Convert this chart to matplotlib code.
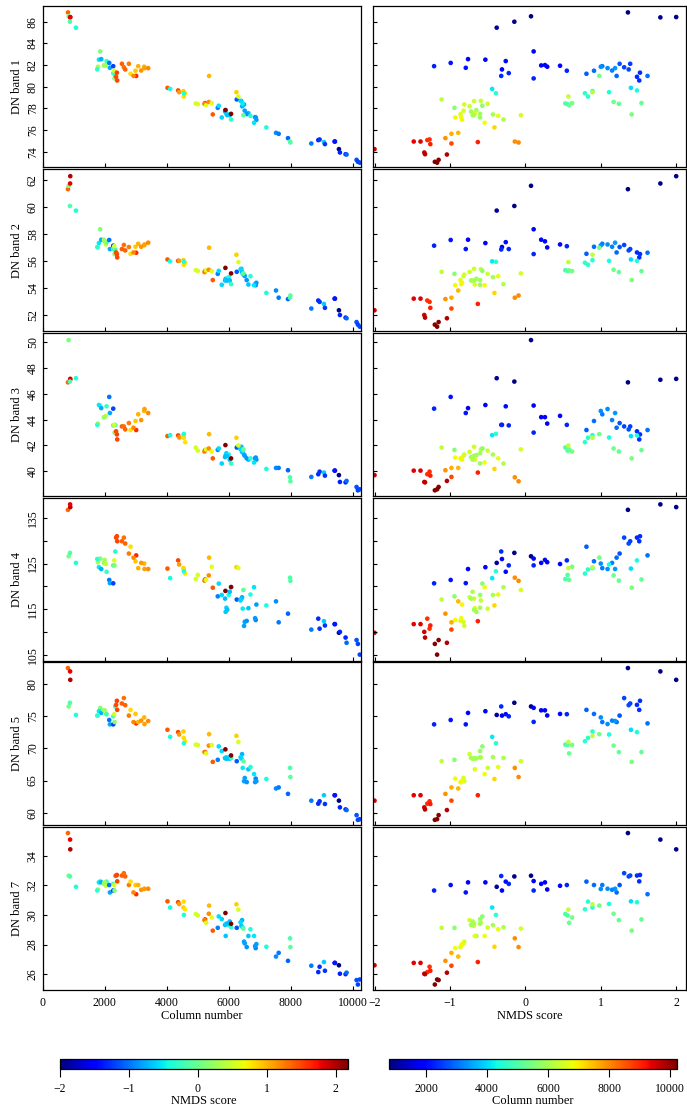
import matplotlib
matplotlib.use("Agg")
import matplotlib.pyplot as plt
from matplotlib.colors import Normalize
from matplotlib.cm import ScalarMappable

plt.rcParams['font.family'] = ['Liberation Serif', 'DejaVu Serif']
plt.rcParams['axes.unicode_minus'] = True

# ---------------- data (one entry per sampled column) ----------------
column_number = [
    806, 828, 881, 875, 870, 1064,
    1849, 1806, 1881, 1774, 1752, 1967, 2032, 2053, 2139, 2161, 2268, 2268, 2333, 2311, 1990, 2300,
    2386, 2397, 2548, 2612, 2655, 2773, 2827, 2360, 3010, 2988, 3075, 2924, 3268, 3279, 3397, 3171,
    4020, 4106, 4364, 4397, 4536, 4590, 4547, 4550,
    4934, 4999, 5235, 5214, 5268, 5354, 5364, 5450, 5483,
    6257, 5644, 6493, 6429, 6407, 6380, 5676, 6450, 6515, 5900, 5880, 6633, 5923, 6579, 5999, 6031,
    5950, 6700, 6472, 6869, 6850, 5773, 6891, 6074, 6816, 5891, 6074, 6246, 6310,
    7213, 7525, 7611, 7912, 7977, 7990,
    8665, 8890, 8933, 9073, 9105, 9417, 9430, 9557, 9589, 9772, 9804, 10127, 10170, 10230,
]
nmds_score = [
    1.36, 0.075, 2.0, 1.79, -0.146, -0.38,
    0.11, -0.53, -0.76, 0.29, -0.31, 0.21, 0.46, -0.26, -0.99, -0.79, -1.21, -0.22, -0.32, 0.11, 0.26, 0.55,
    1.52, 1.51, 1.39, 1.31, 1.37, 1.25, 0.81, 1.48, 1.62, 0.91, 1.02, 1.21, 1.0, 1.09, 1.19, 1.15,
    1.40, -0.44, 1.48, 1.11, 0.89, 0.79, 0.83, -0.39,
    0.53, 0.56, 1.54, 1.24, 0.58, 1.17, 0.98, 0.62, 1.41,
    -1.11, -0.94, -0.81, -0.74, -0.68, -0.59, -0.57, -0.5, -0.82, -0.65, -0.72, -0.67, -0.6, -0.86, -0.43, -0.70,
    -0.68, -0.36, -0.06, -0.93, -0.85, -0.6, -0.84, -0.29, -0.54, 2.18, 2.16, 0.89, 0.57,
    -0.41, -0.89, -0.98, -1.06, -0.14, -0.09,
    -0.98, -1.30, -1.27, -0.63, -1.26, -1.48, -1.39, -2.0, -1.34, -1.33, -1.04, -1.15, -1.2, -1.17,
]
dn_band1 = [
    86.86, 86.5, 86.43, 86.4, 86.0, 85.45,
    83.26, 82.5, 82.55, 81.85, 81.6, 81.97, 81.94, 82.37, 82.2, 81.75, 81.9, 81.26, 81.0, 80.77, 82.0, 81.48,
    81.3, 80.58, 82.12, 81.8, 81.6, 82.12, 81.2, 80.92, 81.0, 81.48, 81.9, 81.0, 81.85, 81.72, 81.72, 81.5,
    79.9, 79.8, 79.66, 79.5, 79.6, 79.4, 79.1, 79.4,
    78.46, 78.4, 78.5, 78.43, 78.3, 78.6, 81.0, 78.5, 77.45,
    78.83, 78.06, 78.37, 78.2, 78.68, 78.7, 78.25, 78.43, 77.8, 77.85, 77.72, 77.57, 77.5, 77.48, 77.45, 77.38,
    77.38, 77.32, 77.38, 77.17, 77.2, 77.17, 76.95, 76.98, 76.68, 77.85, 77.5, 79.5, 79.1,
    76.25, 75.75, 75.66, 75.26, 74.95, 74.86,
    74.77, 75.08, 75.14, 74.9, 74.71, 74.95, 74.95, 74.25, 73.94, 73.78, 73.75, 73.26, 73.08, 73.0,
]
dn_band2 = [
    61.31, 61.56, 62.27, 61.73, 60.07, 59.73,
    58.35, 57.33, 57.58, 57.01, 57.04, 57.58, 57.23, 57.4, 57.56, 56.89, 57.14, 56.89, 56.86, 56.52, 57.46, 57.1,
    56.52, 56.27, 56.89, 57.19, 56.79, 57.04, 56.54, 56.64, 56.62, 57.06, 57.28, 56.64, 57.16, 57.23, 57.36, 57.06,
    56.12, 55.98, 56.02, 56.02, 56.07, 55.88, 55.73, 55.95,
    55.33, 55.28, 55.26, 55.19, 55.31, 55.36, 56.99, 55.26, 54.6,
    55.21, 55.06, 55.0, 55.2, 55.43, 55.4, 55.28, 55.06, 54.9, 54.7, 54.57, 54.27, 54.6, 54.6, 54.81, 54.57,
    54.57, 54.89, 55.09, 54.22, 54.3, 54.25, 54.4, 54.3, 54.22, 55.5, 55.09, 56.47, 55.93,
    53.65, 53.83, 53.3, 53.2, 53.3, 53.46,
    52.5, 53.09, 52.99, 52.84, 52.55, 53.23, 53.23, 52.37, 52.02, 51.83, 51.78, 51.5, 51.31, 51.16,
]
dn_band3 = [
    46.9, 50.18, 47.17, 47.1, 46.96, 47.22,
    45.1, 45.14, 44.9, 43.7, 43.6, 44.2, 44.3, 45.04, 45.77, 44.52, 44.86, 43.56, 43.6, 43.0, 44.2, 43.6,
    42.86, 42.47, 43.48, 43.48, 43.25, 43.74, 43.2, 43.1, 43.2, 43.9, 44.42, 43.38, 44.68, 44.83, 44.52, 43.97,
    42.73, 42.8, 42.78, 42.62, 42.8, 42.26, 42.6, 42.9,
    41.84, 41.6, 41.64, 41.53, 41.7, 41.77, 42.88, 41.53, 41.0,
    41.84, 41.66, 41.3, 41.5, 41.9, 41.7, 41.77, 41.6, 41.2, 41.25, 41.1, 40.9, 41.4, 41.0, 41.3, 40.9,
    41.2, 41.0, 41.7, 41.06, 41.0, 40.6, 40.9, 40.6, 40.68, 42.03, 41.0, 42.6, 42.0,
    40.18, 40.26, 40.26, 40.08, 39.53, 39.22,
    39.56, 39.77, 39.97, 39.9, 39.66, 40.05, 40.05, 39.7, 39.17, 39.14, 39.25, 38.78, 38.52, 38.6,
]
dn_band4 = [
    136.8, 126.6, 137.4, 138.0, 127.35, 125.15,
    126.1, 124.2, 123.8, 125.3, 126.0, 125.15, 124.9, 123.2, 121.4, 120.7, 120.66, 124.6, 127.65, 124.6, 125.8, 125.7,
    131.0, 129.9, 129.9, 130.7, 129.4, 127.2, 128.7, 130.7, 126.8, 125.5, 124.0, 126.3, 125.0, 123.8, 123.8, 125.15,
    123.9, 121.8, 125.7, 124.8, 124.0, 122.8, 123.7, 123.3,
    121.6, 122.5, 121.5, 121.25, 121.4, 122.4, 126.3, 124.3, 119.7,
    117.1, 117.8, 111.3, 117.6, 117.3, 116.9, 120.6, 115.1, 112.2, 114.4, 117.3, 115.2, 115.3, 112.4, 118.1, 118.8,
    114.85, 118.2, 119.2, 112.6, 113.0, 118.1, 116.0, 119.8, 119.8, 119.0, 119.85, 124.2, 124.0,
    115.8, 116.7, 112.1, 114.0, 121.9, 121.2,
    110.5, 112.9, 110.7, 112.35, 111.4, 111.7, 111.7, 109.8, 110.0, 108.75, 107.6, 108.2, 107.35, 105.0,
]
dn_band5 = [
    82.46, 76.5, 80.63, 81.94, 77.07, 75.18,
    76.28, 75.76, 75.5, 75.1, 75.08, 75.9, 75.34, 75.3, 74.4, 73.72, 73.72, 74.97, 76.5, 74.1, 75.9, 75.3,
    77.38, 75.97, 76.96, 77.8, 76.7, 75.08, 75.97, 76.75, 73.87, 75.34, 74.08, 74.08, 74.8, 73.77, 74.24, 74.3,
    72.88, 71.78, 72.51, 72.15, 72.62, 71.1, 71.62, 70.79,
    70.58, 70.52, 69.42, 69.42, 69.21, 70.42, 72.2, 70.52, 67.9,
    68.0, 68.22, 64.9, 69.1, 68.43, 68.6, 70.3, 66.96, 65.4, 68.43, 68.5, 66.75, 68.6, 64.76, 68.64, 68.4,
    68.4, 67.1, 68.0, 65.3, 64.76, 69.58, 64.9, 68.5, 66.0, 69.84, 68.9, 71.94, 71.0,
    65.24, 63.77, 63.93, 62.93, 66.96, 65.55,
    61.88, 61.41, 61.78, 62.72, 61.36, 62.72, 62.72, 61.88, 60.84, 60.52, 60.42, 59.63, 58.9, 59.0,
]
dn_band7 = [
    35.53, 32.65, 34.43, 35.09, 32.6, 31.9,
    32.29, 32.2, 32.2, 31.72, 31.65, 32.1, 31.97, 32.25, 32.02, 31.52, 31.65, 32.1, 32.63, 31.65, 32.2, 32.02,
    32.7, 32.27, 32.66, 32.82, 32.6, 32.02, 32.25, 32.66, 31.4, 32.02, 32.02, 31.52, 31.75, 31.77, 31.77, 31.7,
    30.92, 30.5, 30.86, 30.74, 30.5, 30.38, 30.9, 30.0,
    30.06, 29.97, 29.7, 29.65, 29.47, 30.08, 30.63, 29.83, 28.94,
    29.13, 29.13, 28.2, 29.65, 29.26, 29.5, 29.9, 29.15, 28.08, 28.58, 29.33, 28.58, 29.4, 27.83, 29.31, 29.56,
    29.42, 29.03, 29.08, 27.76, 27.9, 29.72, 28.03, 29.17, 28.58, 30.13, 29.4, 30.72, 30.36,
    27.85, 27.19, 27.44, 26.9, 28.42, 27.83,
    26.57, 26.14, 26.5, 26.82, 26.23, 26.76, 26.76, 26.6, 26.03, 26.0, 26.1, 25.6, 25.3, 25.64,
]

band_values = [dn_band1, dn_band2, dn_band3, dn_band4, dn_band5, dn_band7]
band_labels = ["DN band 1", "DN band 2", "DN band 3", "DN band 4", "DN band 5", "DN band 7"]
band_ticks = [
    [74, 76, 78, 80, 82, 84, 86],
    [52, 54, 56, 58, 60, 62],
    [40, 42, 44, 46, 48, 50],
    [105, 110, 115, 120, 125, 130, 135],
    [60, 65, 70, 75, 80],
    [26, 28, 30, 32, 34],
]
band_ticklabels = [
    None, None, None,
    ["105", "", "115", "", "125", "", "135"],
    None, None,
]
band_ylims = [(72.6, 87.45), (50.84, 62.8), (38.08, 50.73), (103.6, 139.4), (58.1, 83.4), (24.93, 35.94)]

col_ticks = [0, 2000, 4000, 6000, 8000, 10000]
nmds_ticks = [-2, -1, 0, 1, 2]
cbar_col_ticks = [2000, 4000, 6000, 8000, 10000]

# ---------------- figure ----------------
W, H = 687, 1109
fig = plt.figure(figsize=(W / 100, H / 100), dpi=100)


def rect(x0, y0, x1, y1):
    return [x0 / W, 1 - y1 / H, (x1 - x0) / W, (y1 - y0) / H]


row_tops = [6, 169, 333, 498, 662, 827]
row_bots = [167, 331, 496, 661, 825, 990]

cmap = plt.get_cmap('jet')
nmds_norm = Normalize(vmin=-2.0, vmax=2.18)
col_norm = Normalize(vmin=780, vmax=10230)

FS = 8.5
MS = 11

for i in range(6):
    axl = fig.add_axes(rect(43, row_tops[i], 361, row_bots[i]))
    axr = fig.add_axes(rect(373, row_tops[i], 686, row_bots[i]))
    vals = band_values[i]

    axl.scatter(column_number, vals, c=nmds_score, cmap=cmap, norm=nmds_norm,
                s=MS, linewidths=0)
    axr.scatter(nmds_score, vals, c=column_number, cmap=cmap, norm=col_norm,
                s=MS, linewidths=0)

    for ax in (axl, axr):
        ax.set_ylim(*band_ylims[i])
        ax.set_yticks(band_ticks[i])
        ax.tick_params(direction='in', length=3, width=0.8, labelsize=FS,
                       top=False, right=False)
        for sp in ax.spines.values():
            sp.set_linewidth(0.9)

    axl.set_xlim(0, 10270)
    axl.set_xticks(col_ticks)
    axr.set_xlim(-2.02, 2.13)
    axr.set_xticks(nmds_ticks)

    if band_ticklabels[i] is not None:
        axl.set_yticklabels(band_ticklabels[i])
    axl.tick_params(axis='y', labelrotation=90, pad=3)
    for lbl in axl.get_yticklabels():
        lbl.set_va('center')
    axl.set_ylabel(band_labels[i], fontsize=FS + 0.5, labelpad=3)
    axr.tick_params(axis='y', labelleft=False)

    if i < 5:
        axl.tick_params(axis='x', labelbottom=False)
        axr.tick_params(axis='x', labelbottom=False)
    else:
        axl.tick_params(axis='x', pad=5)
        axr.tick_params(axis='x', pad=5)
        axl.set_xlabel("Column number", fontsize=FS + 0.5, labelpad=1)
        axr.set_xlabel("NMDS score", fontsize=FS + 0.5, labelpad=1)

# ---------------- colour bars ----------------
cax1 = fig.add_axes(rect(60, 1059, 348, 1069))
cb1 = fig.colorbar(ScalarMappable(norm=nmds_norm, cmap=cmap), cax=cax1,
                   orientation='horizontal', ticks=nmds_ticks)
cax2 = fig.add_axes(rect(389, 1059, 677, 1069))
cb2 = fig.colorbar(ScalarMappable(norm=col_norm, cmap=cmap), cax=cax2,
                   orientation='horizontal', ticks=cbar_col_ticks)
for cb, lab in ((cb1, "NMDS score"), (cb2, "Column number")):
    cb.ax.tick_params(direction='out', length=6, width=0.8, labelsize=FS, pad=4)
    cb.outline.set_linewidth(0.9)
    cb.set_label(lab, fontsize=FS + 0.5, labelpad=0)

fig.savefig("out.png", dpi=100)
